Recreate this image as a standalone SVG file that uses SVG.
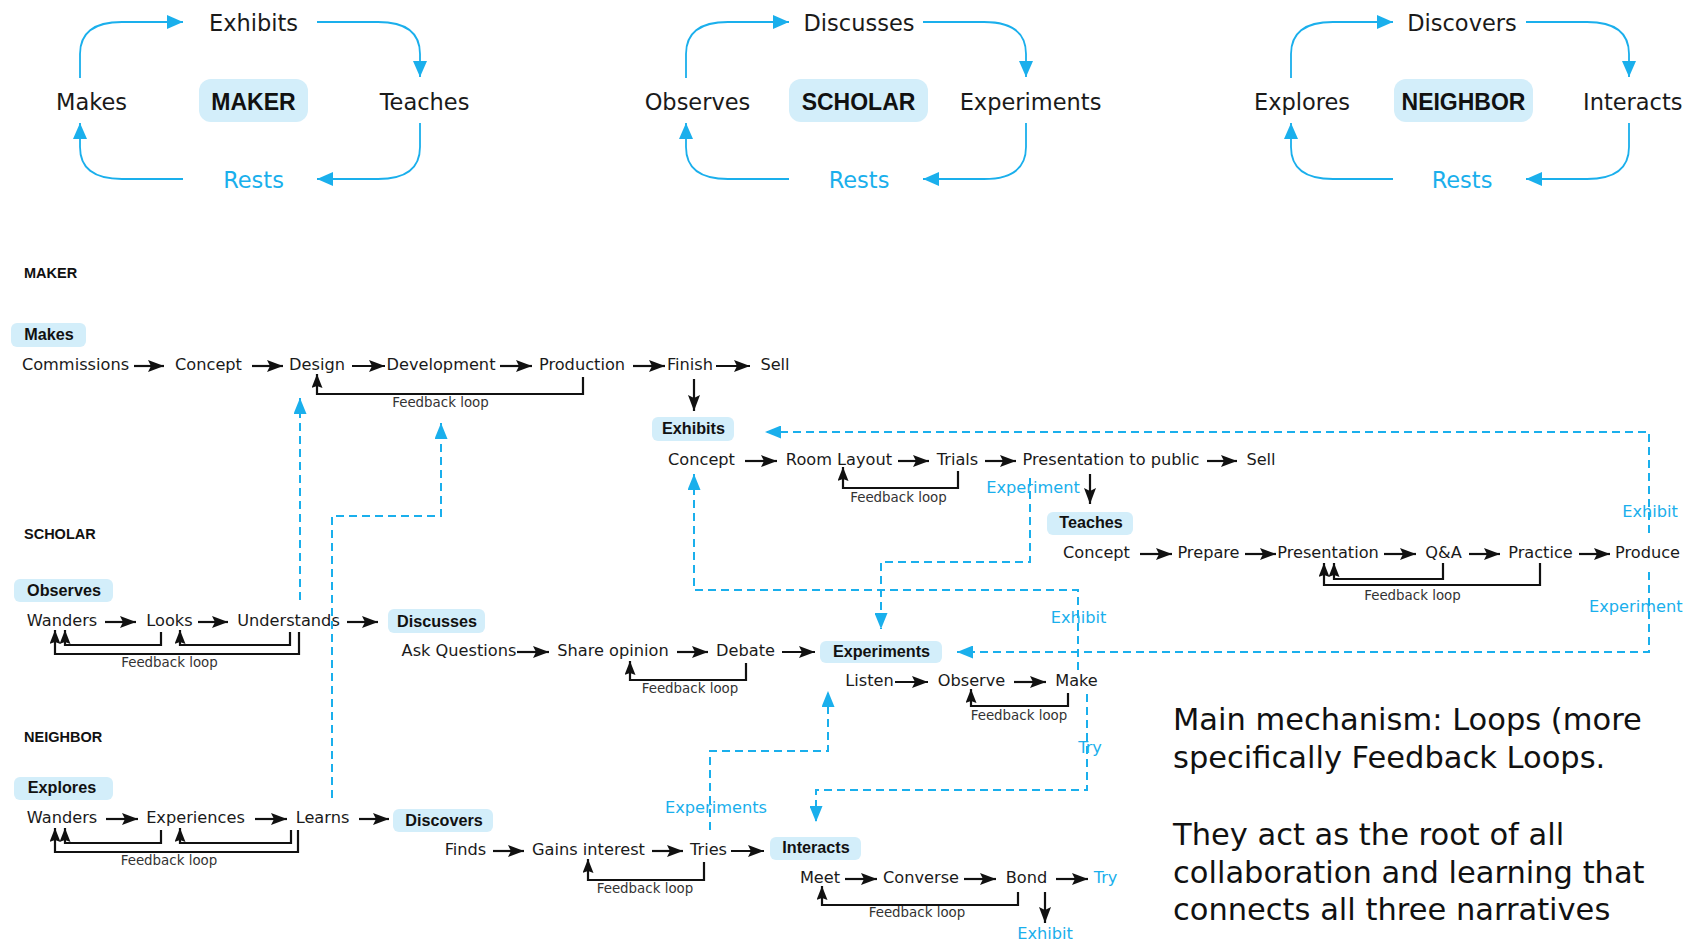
<svg xmlns="http://www.w3.org/2000/svg" width="1684" height="947" viewBox="0 0 1684 947">
<style>
  text { font-family: "DejaVu Sans", "Liberation Sans", sans-serif; fill: #1a1a1a; }
  .t { font-size: 16.2px; text-anchor: middle; }
  .ts { font-size: 16.2px; }
  .big { font-size: 22.5px; text-anchor: middle; }
  .hero { font-family: "Liberation Sans", Arial, sans-serif; font-weight: bold; font-size: 23px; text-anchor: middle; fill: #111; }
  .lab { font-family: "Liberation Sans", Arial, sans-serif; font-weight: bold; font-size: 16.2px; text-anchor: middle; fill: #111; }
  .sec { font-family: "Liberation Sans", Arial, sans-serif; font-weight: bold; font-size: 14.5px; fill: #111; }
  .fb { font-size: 13.4px; text-anchor: middle; fill: #333; }
  .blue { fill: #1aafec; }
  .note { font-size: 30.5px; fill: #111; }
  .pill { fill: #d3eefa; }
  .flow { stroke: #111; stroke-width: 2.2; fill: none; marker-end: url(#ah); }
  .loop { stroke: #111; stroke-width: 2.2; fill: none; marker-end: url(#ahs); }
  .link { stroke: #1aafec; stroke-width: 2; fill: none; stroke-dasharray: 8 5; marker-end: url(#bh); }
  .cyc { stroke: #1aafec; stroke-width: 1.8; fill: none; marker-end: url(#ch); }
</style>
<defs>
  <marker id="ah" markerUnits="userSpaceOnUse" markerWidth="16" markerHeight="12" refX="16" refY="6" orient="auto">
    <path d="M0,0 L16,6 L0,12 L3,6 z" fill="#111"/>
  </marker>
  <marker id="ahs" markerUnits="userSpaceOnUse" markerWidth="14" markerHeight="11" refX="14" refY="5.5" orient="auto">
    <path d="M0,0 L14,5.5 L0,11 L2,5.5 z" fill="#111"/>
  </marker>
  <marker id="bh" markerUnits="userSpaceOnUse" markerWidth="16" markerHeight="13" refX="16" refY="6.5" orient="auto">
    <path d="M0,0 L16,6.5 L0,13 z" fill="#1aafec"/>
  </marker>
  <marker id="ch" markerUnits="userSpaceOnUse" markerWidth="16" markerHeight="14" refX="16" refY="7" orient="auto">
    <path d="M0,0 L16,7 L0,14 z" fill="#1aafec"/>
  </marker>
</defs>

<!-- ===== Top: three role cycles ===== -->
<g id="cycle-maker">
  <g id="c-maker-exhibits"><text class="big" x="253.5" y="31">Exhibits</text></g>
  <g id="c-maker-makes"><text class="big" x="91.5" y="110">Makes</text></g>
  <g id="c-maker-core"><rect class="pill" x="199" y="79" width="109" height="43" rx="12"/><text class="hero" x="253.5" y="110">MAKER</text></g>
  <g id="c-maker-teaches"><text class="big" x="424.5" y="110">Teaches</text></g>
  <g id="c-maker-rests"><text class="big blue" x="253.5" y="188">Rests</text></g>
</g>
<g id="cycle-scholar">
  <g id="c-scholar-discusses"><text class="big" x="859" y="31">Discusses</text></g>
  <g id="c-scholar-observes"><text class="big" x="697.5" y="110">Observes</text></g>
  <g id="c-scholar-core"><rect class="pill" x="789" y="79" width="139" height="43" rx="12"/><text class="hero" x="858.5" y="110">SCHOLAR</text></g>
  <g id="c-scholar-experiments"><text class="big" x="1030.5" y="110">Experiments</text></g>
  <g id="c-scholar-rests"><text class="big blue" x="859" y="188">Rests</text></g>
</g>
<g id="cycle-neighbor">
  <g id="c-neighbor-discovers"><text class="big" x="1462" y="31">Discovers</text></g>
  <g id="c-neighbor-explores"><text class="big" x="1302" y="110">Explores</text></g>
  <g id="c-neighbor-core"><rect class="pill" x="1394" y="79" width="139" height="43" rx="12"/><text class="hero" x="1463.5" y="110">NEIGHBOR</text></g>
  <g id="c-neighbor-interacts"><text class="big" x="1583" y="110" style="text-anchor:start">Interacts</text></g>
  <g id="c-neighbor-rests"><text class="big blue" x="1462" y="188">Rests</text></g>
</g>

<!-- ===== Section headings ===== -->
<g id="sec-maker"><text class="sec" x="24" y="278">MAKER</text></g>
<g id="sec-scholar"><text class="sec" x="24" y="539">SCHOLAR</text></g>
<g id="sec-neighbor"><text class="sec" x="24" y="742">NEIGHBOR</text></g>

<!-- ===== Stage labels ===== -->
<g id="lbl-makes"><rect class="pill" x="11" y="323" width="75" height="24" rx="6"/><text class="lab" x="49" y="340">Makes</text></g>
<g id="lbl-exhibits"><rect class="pill" x="652" y="417" width="82" height="24" rx="6"/><text class="lab" x="693.5" y="434">Exhibits</text></g>
<g id="lbl-teaches"><rect class="pill" x="1047" y="512" width="86" height="23" rx="6"/><text class="lab" x="1091" y="528">Teaches</text></g>
<g id="lbl-observes"><rect class="pill" x="14" y="579" width="99" height="23" rx="6"/><text class="lab" x="64" y="596">Observes</text></g>
<g id="lbl-discusses"><rect class="pill" x="388" y="609" width="97" height="24" rx="6"/><text class="lab" x="437" y="627">Discusses</text></g>
<g id="lbl-experiments"><rect class="pill" x="820" y="641" width="122" height="22" rx="6"/><text class="lab" x="881.5" y="657">Experiments</text></g>
<g id="lbl-explores"><rect class="pill" x="14" y="777" width="99" height="23" rx="6"/><text class="lab" x="62" y="793">Explores</text></g>
<g id="lbl-discovers"><rect class="pill" x="393" y="809" width="100" height="23" rx="6"/><text class="lab" x="444" y="826">Discovers</text></g>
<g id="lbl-interacts"><rect class="pill" x="770" y="837" width="91" height="23" rx="6"/><text class="lab" x="816" y="853">Interacts</text></g>

<!-- ===== Maker: Makes row ===== -->
<g id="mk-commissions"><text class="t" x="75.5" y="370">Commissions</text></g>
<g id="mk-concept"><text class="t" x="208.5" y="370">Concept</text></g>
<g id="mk-design"><text class="t" x="317" y="370">Design</text></g>
<g id="mk-development"><text class="t" x="441" y="370">Development</text></g>
<g id="mk-production"><text class="t" x="582" y="370">Production</text></g>
<g id="mk-finish"><text class="t" x="690" y="370">Finish</text></g>
<g id="mk-sell"><text class="t" x="775" y="370">Sell</text></g>

<!-- Maker: Exhibits row -->
<g id="ex-concept"><text class="t" x="701.5" y="465">Concept</text></g>
<g id="ex-room"><text class="t" x="839" y="465">Room Layout</text></g>
<g id="ex-trials"><text class="t" x="957.5" y="465">Trials</text></g>
<g id="ex-present"><text class="t" x="1111" y="465">Presentation to public</text></g>
<g id="ex-sell"><text class="t" x="1261" y="465">Sell</text></g>

<!-- Maker: Teaches row -->
<g id="te-concept"><text class="t" x="1096.5" y="558">Concept</text></g>
<g id="te-prepare"><text class="t" x="1208.5" y="558">Prepare</text></g>
<g id="te-presentation"><text class="t" x="1328" y="558">Presentation</text></g>
<g id="te-qa"><text class="t" x="1443.5" y="558">Q&amp;A</text></g>
<g id="te-practice"><text class="t" x="1540.5" y="558">Practice</text></g>
<g id="te-produce"><text class="ts" x="1615" y="558">Produce</text></g>

<!-- Scholar: Observes row -->
<g id="ob-wanders"><text class="t" x="62" y="626">Wanders</text></g>
<g id="ob-looks"><text class="t" x="169.5" y="626">Looks</text></g>
<g id="ob-understands"><text class="t" x="288.5" y="626">Understands</text></g>

<!-- Scholar: Discusses row -->
<g id="di-ask"><text class="t" x="459" y="656">Ask Questions</text></g>
<g id="di-share"><text class="t" x="613" y="656">Share opinion</text></g>
<g id="di-debate"><text class="t" x="745.5" y="656">Debate</text></g>

<!-- Scholar: Experiments row -->
<g id="xp-listen"><text class="t" x="869.5" y="686">Listen</text></g>
<g id="xp-observe"><text class="t" x="971.5" y="686">Observe</text></g>
<g id="xp-make"><text class="t" x="1076.5" y="686">Make</text></g>

<!-- Neighbor: Explores row -->
<g id="eo-wanders"><text class="t" x="62" y="823">Wanders</text></g>
<g id="eo-experiences"><text class="t" x="195.5" y="823">Experiences</text></g>
<g id="eo-learns"><text class="t" x="322.5" y="823">Learns</text></g>

<!-- Neighbor: Discovers row -->
<g id="dc-finds"><text class="t" x="465.5" y="855">Finds</text></g>
<g id="dc-gains"><text class="t" x="588.5" y="855">Gains interest</text></g>
<g id="dc-tries"><text class="t" x="708.5" y="855">Tries</text></g>

<!-- Neighbor: Interacts row -->
<g id="in-meet"><text class="t" x="820" y="883">Meet</text></g>
<g id="in-converse"><text class="t" x="921" y="883">Converse</text></g>
<g id="in-bond"><text class="t" x="1026.5" y="883">Bond</text></g>
<g id="in-try"><text class="t blue" x="1105.5" y="883">Try</text></g>
<g id="in-exhibit"><text class="t blue" x="1045" y="939">Exhibit</text></g>

<!-- Feedback loop captions -->
<g id="fb-captions">
  <text class="fb" x="440.5" y="407">Feedback loop</text>
  <text class="fb" x="898.5" y="502">Feedback loop</text>
  <text class="fb" x="1412.5" y="600">Feedback loop</text>
  <text class="fb" x="169.5" y="667">Feedback loop</text>
  <text class="fb" x="690" y="693">Feedback loop</text>
  <text class="fb" x="1019" y="720">Feedback loop</text>
  <text class="fb" x="169" y="865">Feedback loop</text>
  <text class="fb" x="645" y="893">Feedback loop</text>
  <text class="fb" x="917" y="917">Feedback loop</text>
</g>

<!-- Cross-links captions -->
<g id="link-captions">
  <text class="t blue" x="1033" y="493">Experiment</text>
  <text class="t blue" x="1650" y="517">Exhibit</text>
  <text class="ts blue" x="1589" y="612">Experiment</text>
  <text class="t blue" x="1078.5" y="623">Exhibit</text>
  <text class="t blue" x="1090" y="753">Try</text>
  <text class="t blue" x="716" y="813">Experiments</text>
</g>

<!-- Summary note -->
<g id="summary">
  <text class="note" x="1173" y="730">Main mechanism: Loops (more</text>
  <text class="note" x="1173" y="768">specifically Feedback Loops.</text>
  <text class="note" x="1173" y="845">They act as the root of all</text>
  <text class="note" x="1173" y="883">collaboration and learning that</text>
  <text class="note" x="1173" y="920">connects all three narratives</text>
</g>

<!-- ===== Connectors ===== -->
<g id="connectors">
  <!-- cycle arrows -->
  <path class="cyc" d="M80,78 V54 C80,33 93,22 122,22 H183"/>
  <path class="cyc" d="M317,22 H378 C407,22 420,33 420,54 V77"/>
  <path class="cyc" d="M420,123 V147 C420,168 407,179 378,179 H317"/>
  <path class="cyc" d="M183,179 H122 C93,179 80,168 80,147 V123"/>

  <path class="cyc" d="M686,78 V54 C686,33 699,22 728,22 H789"/>
  <path class="cyc" d="M923,22 H984 C1013,22 1026,33 1026,54 V77"/>
  <path class="cyc" d="M1026,123 V147 C1026,168 1013,179 984,179 H923"/>
  <path class="cyc" d="M789,179 H728 C699,179 686,168 686,147 V123"/>

  <path class="cyc" d="M1291,78 V54 C1291,33 1304,22 1333,22 H1393"/>
  <path class="cyc" d="M1526,22 H1587 C1616,22 1629,33 1629,54 V77"/>
  <path class="cyc" d="M1629,123 V147 C1629,168 1616,179 1587,179 H1526"/>
  <path class="cyc" d="M1393,179 H1333 C1304,179 1291,168 1291,147 V123"/>

  <!-- sequence arrows -->
  <path class="flow" d="M134,366 H164"/>
  <path class="flow" d="M252,366 H283"/>
  <path class="flow" d="M352,366 H385"/>
  <path class="flow" d="M500,366 H532"/>
  <path class="flow" d="M633,366 H665"/>
  <path class="flow" d="M716,366 H750"/>
  <path class="flow" d="M694,379 V411"/>

  <path class="flow" d="M745,461 H777"/>
  <path class="flow" d="M898,461 H929"/>
  <path class="flow" d="M985,461 H1016"/>
  <path class="flow" d="M1207,461 H1237"/>
  <path class="flow" d="M1090,474 V504"/>

  <path class="flow" d="M1140,554 H1172"/>
  <path class="flow" d="M1245,554 H1276"/>
  <path class="flow" d="M1384,554 H1416"/>
  <path class="flow" d="M1469,554 H1500"/>
  <path class="flow" d="M1579,554 H1610"/>

  <path class="flow" d="M105,622 H136"/>
  <path class="flow" d="M198,622 H228"/>
  <path class="flow" d="M347,622 H378"/>

  <path class="flow" d="M517,652 H549"/>
  <path class="flow" d="M677,652 H708"/>
  <path class="flow" d="M782,652 H815"/>

  <path class="flow" d="M895,682 H928"/>
  <path class="flow" d="M1014,682 H1046"/>

  <path class="flow" d="M106,819 H138"/>
  <path class="flow" d="M255,819 H287"/>
  <path class="flow" d="M359,819 H389"/>

  <path class="flow" d="M493,851 H524"/>
  <path class="flow" d="M652,851 H683"/>
  <path class="flow" d="M731,851 H764"/>

  <path class="flow" d="M845,879 H877"/>
  <path class="flow" d="M964,879 H996"/>
  <path class="flow" d="M1056,879 H1088"/>
  <path class="flow" d="M1045,892 V923"/>

  <!-- feedback loops -->
  <path class="loop" d="M583,377 V394 H317 V374"/>
  <path class="loop" d="M958,471 V488 H843 V467"/>
  <path class="loop" d="M1443,563 V579 H1334 V563"/>
  <path class="loop" d="M1540,563 V585 H1324 V563"/>
  <path class="loop" d="M161,632 V645 H65 V630"/>
  <path class="loop" d="M290,632 V645 H180 V630"/>
  <path class="loop" d="M299,632 V654 H55 V630"/>
  <path class="loop" d="M746,663 V680 H630 V661"/>
  <path class="loop" d="M1068,693 V706 H971 V689"/>
  <path class="loop" d="M161,830 V843 H65 V828"/>
  <path class="loop" d="M291,830 V843 H180 V828"/>
  <path class="loop" d="M298,830 V852 H55 V828"/>
  <path class="loop" d="M704,862 V880 H588 V859"/>
  <path class="loop" d="M1018,892 V905 H822 V886"/>

  <!-- dashed cross-links between roles -->
  <path class="link" d="M300,600 V398"/>
  <path class="link" d="M332,798 V516 H441 V423"/>
  <path class="link" d="M1078,670 V590 H694 V474"/>
  <path class="link" d="M1030,478 V562 H881 V629"/>
  <path class="link" d="M1649,533 V432 H765"/>
  <path class="link" d="M1649,572 V652 H957"/>
  <path class="link" d="M710,830 V751 H828 V691"/>
  <path class="link" d="M1087,694 V790 H816 V822"/>
</g>
</svg>
